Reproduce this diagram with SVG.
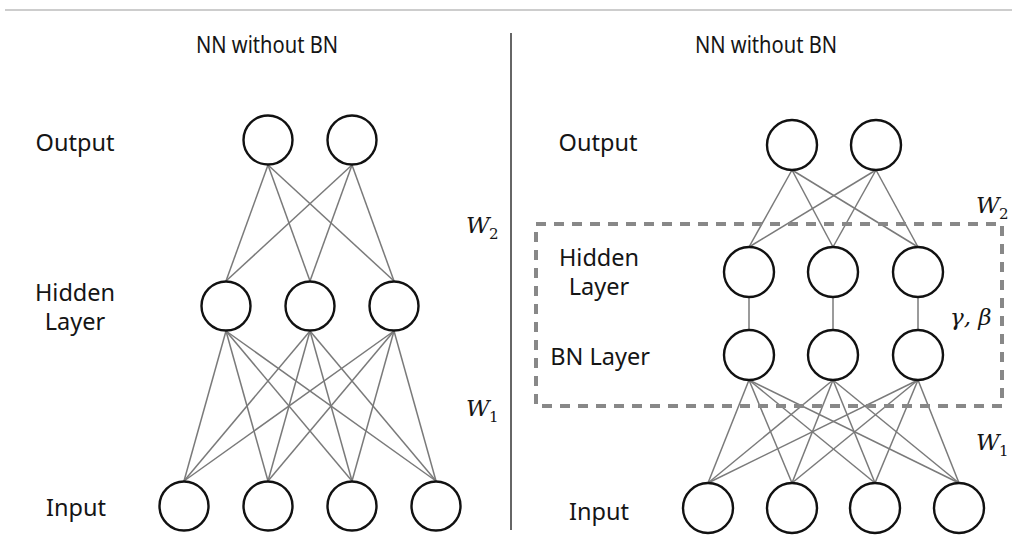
<svg xmlns="http://www.w3.org/2000/svg" width="1012" height="543" viewBox="0 0 1012 543">
  <style>
    .node { fill: #ffffff; stroke: #111111; stroke-width: 2.4; }
    .edge { stroke: #7a7a7a; stroke-width: 1.5; fill: none; }
    .lbl { font-family: "Noto Sans", "Open Sans", sans-serif; font-size: 23.5px; fill: #151515; }
    .title { font-family: "Noto Sans", "Open Sans", sans-serif; font-size: 23px; fill: #151515; }
    .math { font-family: "DejaVu Serif", "Liberation Serif", serif; font-style: italic; font-size: 23px; fill: #151515; }
    .sub { font-family: "DejaVu Serif", "Liberation Serif", serif; font-size: 15px; fill: #151515; }
    .box { fill: none; stroke: #888888; stroke-width: 4; stroke-dasharray: 10 8; }
  </style>
  <rect width="1012" height="543" fill="#ffffff"/>

  <!-- header rule and panel divider -->
  <line x1="5" y1="10" x2="1012" y2="10" stroke="#bdbdbd" stroke-width="1.5"/>
  <line x1="511" y1="33" x2="511" y2="530" stroke="#333333" stroke-width="1.5"/>

  <text class="title" x="196" y="53" textLength="142" lengthAdjust="spacingAndGlyphs">NN without BN</text>
  <text class="title" x="695" y="53" textLength="142" lengthAdjust="spacingAndGlyphs">NN without BN</text>

  <!-- connectors -->
  <g id="connectors">
    <g class="edge">
      <!-- left: output -> hidden -->
      <line x1="268" y1="165" x2="226" y2="281"/>
      <line x1="268" y1="165" x2="310" y2="281"/>
      <line x1="268" y1="165" x2="394" y2="281"/>
      <line x1="352" y1="165" x2="226" y2="281"/>
      <line x1="352" y1="165" x2="310" y2="281"/>
      <line x1="352" y1="165" x2="394" y2="281"/>
      <!-- left: hidden -> input -->
      <line x1="226" y1="331" x2="184" y2="481"/>
      <line x1="226" y1="331" x2="268" y2="481"/>
      <line x1="226" y1="331" x2="352" y2="481"/>
      <line x1="226" y1="331" x2="436" y2="481"/>
      <line x1="310" y1="331" x2="184" y2="481"/>
      <line x1="310" y1="331" x2="268" y2="481"/>
      <line x1="310" y1="331" x2="352" y2="481"/>
      <line x1="310" y1="331" x2="436" y2="481"/>
      <line x1="394" y1="331" x2="184" y2="481"/>
      <line x1="394" y1="331" x2="268" y2="481"/>
      <line x1="394" y1="331" x2="352" y2="481"/>
      <line x1="394" y1="331" x2="436" y2="481"/>
      <!-- right: output -> hidden -->
      <line x1="792" y1="170" x2="749" y2="247"/>
      <line x1="792" y1="170" x2="833" y2="247"/>
      <line x1="792" y1="170" x2="918" y2="247"/>
      <line x1="876" y1="170" x2="749" y2="247"/>
      <line x1="876" y1="170" x2="833" y2="247"/>
      <line x1="876" y1="170" x2="918" y2="247"/>
      <!-- right: hidden -> BN -->
      <line x1="749" y1="297" x2="749" y2="330"/>
      <line x1="833" y1="297" x2="833" y2="330"/>
      <line x1="918" y1="297" x2="918" y2="330"/>
      <!-- right: BN -> input -->
      <line x1="749" y1="380" x2="708" y2="483"/>
      <line x1="749" y1="380" x2="792" y2="483"/>
      <line x1="749" y1="380" x2="875" y2="483"/>
      <line x1="749" y1="380" x2="959" y2="483"/>
      <line x1="833" y1="380" x2="708" y2="483"/>
      <line x1="833" y1="380" x2="792" y2="483"/>
      <line x1="833" y1="380" x2="875" y2="483"/>
      <line x1="833" y1="380" x2="959" y2="483"/>
      <line x1="918" y1="380" x2="708" y2="483"/>
      <line x1="918" y1="380" x2="792" y2="483"/>
      <line x1="918" y1="380" x2="875" y2="483"/>
      <line x1="918" y1="380" x2="959" y2="483"/>
    </g>
  </g>

  <!-- dashed batch-norm block -->
  <rect class="box" x="536" y="224" width="466" height="182"/>

  <!-- left network nodes -->
  <g id="left-output-1"><circle class="node" cx="268" cy="140" r="24.5"/></g>
  <g id="left-output-2"><circle class="node" cx="352" cy="140" r="24.5"/></g>
  <g id="left-hidden-1"><circle class="node" cx="226" cy="306" r="24.5"/></g>
  <g id="left-hidden-2"><circle class="node" cx="310" cy="306" r="24.5"/></g>
  <g id="left-hidden-3"><circle class="node" cx="394" cy="306" r="24.5"/></g>
  <g id="left-input-1"><circle class="node" cx="184" cy="506" r="24.5"/></g>
  <g id="left-input-2"><circle class="node" cx="268" cy="506" r="24.5"/></g>
  <g id="left-input-3"><circle class="node" cx="352" cy="506" r="24.5"/></g>
  <g id="left-input-4"><circle class="node" cx="436" cy="506" r="24.5"/></g>

  <!-- right network nodes -->
  <g id="right-output-1"><circle class="node" cx="792" cy="145" r="25"/></g>
  <g id="right-output-2"><circle class="node" cx="876" cy="145" r="25"/></g>
  <g id="right-hidden-1"><circle class="node" cx="749" cy="272" r="25"/></g>
  <g id="right-hidden-2"><circle class="node" cx="833" cy="272" r="25"/></g>
  <g id="right-hidden-3"><circle class="node" cx="918" cy="272" r="25"/></g>
  <g id="right-bn-1"><circle class="node" cx="749" cy="355" r="25"/></g>
  <g id="right-bn-2"><circle class="node" cx="833" cy="355" r="25"/></g>
  <g id="right-bn-3"><circle class="node" cx="918" cy="355" r="25"/></g>
  <g id="right-input-1"><circle class="node" cx="708" cy="508" r="25"/></g>
  <g id="right-input-2"><circle class="node" cx="792" cy="508" r="25"/></g>
  <g id="right-input-3"><circle class="node" cx="875" cy="508" r="25"/></g>
  <g id="right-input-4"><circle class="node" cx="959" cy="508" r="25"/></g>

  <!-- layer labels -->
  <g id="labels">
    <text class="lbl" x="75" y="151" text-anchor="middle">Output</text>
    <text class="lbl" x="75" y="301" text-anchor="middle">Hidden</text>
    <text class="lbl" x="75" y="330" text-anchor="middle">Layer</text>
    <text class="lbl" x="76" y="516" text-anchor="middle">Input</text>

    <text class="lbl" x="598" y="151" text-anchor="middle">Output</text>
    <text class="lbl" x="599" y="266" text-anchor="middle">Hidden</text>
    <text class="lbl" x="599" y="295" text-anchor="middle">Layer</text>
    <text class="lbl" x="600" y="365" text-anchor="middle">BN Layer</text>
    <text class="lbl" x="599" y="520" text-anchor="middle">Input</text>
  </g>

  <!-- weight / parameter labels -->
  <g id="params">
    <text class="math" x="466" y="233">W</text><text class="sub" x="489" y="239">2</text>
    <text class="math" x="466" y="416">W</text><text class="sub" x="489" y="422">1</text>
    <text class="math" x="976" y="213">W</text><text class="sub" x="999" y="219">2</text>
    <text class="math" x="950" y="325">γ, β</text>
    <text class="math" x="976" y="450">W</text><text class="sub" x="999" y="456">1</text>
  </g>
</svg>
